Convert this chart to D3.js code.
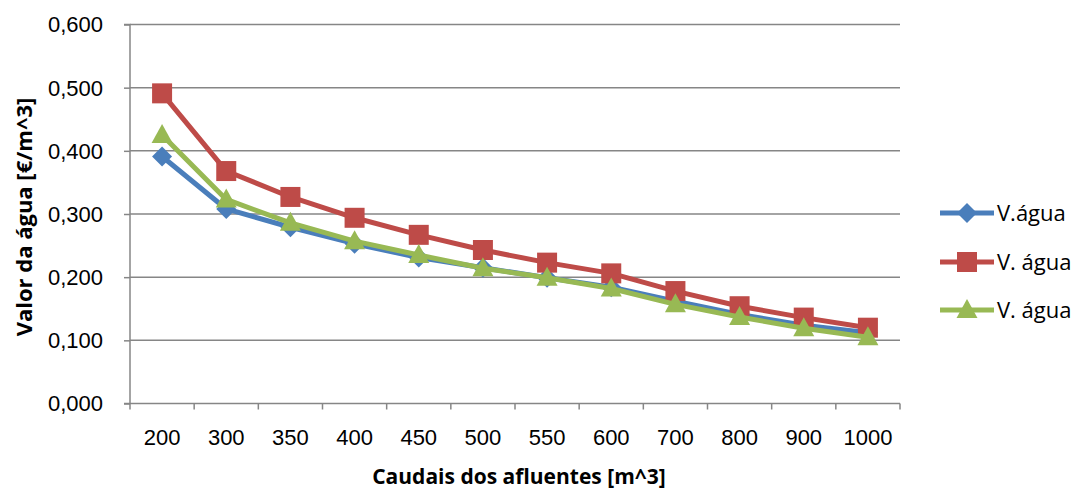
<!DOCTYPE html>
<html><head><meta charset="utf-8">
<script src="https://cdn.jsdelivr.net/npm/d3@7"></script>
<style>body{margin:0;background:#fff;}svg{display:block;font-family:"Open Sans",sans-serif;}</style>
</head><body><svg id="c" width="1080" height="490"></svg>
<script>
const categories = ["200","300","350","400","450","500","550","600","700","800","900","1000"];
const serieBlue  = [0.391,0.308,0.279,0.253,0.231,0.215,0.199,0.184,0.162,0.141,0.124,0.112];
const serieRed   = [0.491,0.368,0.327,0.294,0.267,0.243,0.223,0.206,0.178,0.154,0.136,0.120];
const serieGreen = [0.425,0.323,0.286,0.257,0.235,0.214,0.199,0.182,0.157,0.137,0.119,0.105];
const seriesNames = ["V.água","V. água","V. água"];
const yTicks = [0,0.1,0.2,0.3,0.4,0.5,0.6];
const yTitle = "Valor da água [€/m^3]";
const xTitle = "Caudais dos afluentes [m^3]";

const svg = d3.select("#c");
const L = 130, R = 900, T = 24.5, B = 403.5;
const x = d3.scaleBand().domain(categories).range([L, R]);
const y = d3.scaleLinear().domain([0, 0.6]).range([B, T]);
const fmt = v => d3.format(".3f")(v).replace(".", ",");
const grey = "#868686";

// gridlines
svg.append("g").selectAll("line").data(yTicks.filter(d => d > 0)).join("line")
  .attr("x1", L).attr("x2", R).attr("y1", d => y(d)).attr("y2", d => y(d))
  .attr("stroke", grey).attr("stroke-width", 1.5);

// y axis
const ya = svg.append("g").attr("transform", `translate(${L},0)`)
  .call(d3.axisLeft(y).tickValues(yTicks).tickFormat(fmt).tickSize(6).tickPadding(21));
ya.select(".domain").attr("stroke", grey).attr("stroke-width", 1.5).attr("d", `M-6,${T}H0V${B}`);
ya.selectAll(".tick line").attr("stroke", grey).attr("stroke-width", 1.5);
ya.selectAll("text").attr("font-size", 22).attr("fill", "#000").attr("dy", "0.34em");

// x axis
const xa = svg.append("g").attr("transform", `translate(0,${B})`)
  .call(d3.axisBottom(x).tickSize(0).tickPadding(26));
xa.select(".domain").attr("stroke", grey).attr("stroke-width", 1.5).attr("d", `M${L-6},0H${R}`);
xa.selectAll("text").attr("font-size", 22).attr("fill", "#000");
const edges = categories.map(c => x(c)).concat([R]);
xa.append("g").selectAll("line").data(edges).join("line")
  .attr("x1", d => d).attr("x2", d => d).attr("y1", 0).attr("y2", 6)
  .attr("stroke", grey).attr("stroke-width", 1.5);

// titles
svg.append("text").attr("x", 519).attr("y", 484).attr("text-anchor", "middle")
  .attr("font-size", 21).attr("font-weight", "bold").text(xTitle);
svg.append("text").attr("transform", `translate(32,${(T + B) / 2 + 3}) rotate(-90)`)
  .attr("text-anchor", "middle").attr("font-size", 22).attr("font-weight", "bold").text(yTitle);

const cx = c => x(c) + x.bandwidth() / 2;
const series = [
  {vals: serieBlue, color: "#4a7ebb", marker: "diamond"},
  {vals: serieRed, color: "#be4b48", marker: "square"},
  {vals: serieGreen, color: "#98b954", marker: "triangle"}
];
function drawMarker(g, m, color, px, py) {
  if (m === "diamond") {
    g.append("path").attr("d", `M${px},${py-10}L${px+10},${py}L${px},${py+10}L${px-10},${py}Z`).attr("fill", color);
  } else if (m === "square") {
    g.append("rect").attr("x", px-10).attr("y", py-10).attr("width", 20).attr("height", 20).attr("fill", color);
  } else {
    g.append("path").attr("d", `M${px},${py-11}L${px+10.5},${py+8}L${px-10.5},${py+8}Z`).attr("fill", color);
  }
}
const line = d3.line().x((d, i) => cx(categories[i])).y(d => y(d));
series.forEach(s => {
  const g = svg.append("g");
  g.append("path").datum(s.vals).attr("d", line).attr("fill", "none")
    .attr("stroke", s.color).attr("stroke-width", 5).attr("stroke-linejoin", "round");
  s.vals.forEach((v, i) => drawMarker(g, s.marker, s.color, cx(categories[i]), y(v)));
});

// legend
const legY = [213, 262, 310];
series.forEach((s, i) => {
  const g = svg.append("g");
  g.append("line").attr("x1", 940).attr("x2", 994).attr("y1", legY[i]).attr("y2", legY[i])
    .attr("stroke", s.color).attr("stroke-width", 5);
  drawMarker(g, s.marker, s.color, 967, legY[i]);
  g.append("text").attr("x", 997).attr("y", legY[i]).attr("dy", "0.35em")
    .attr("font-size", 22).text(seriesNames[i]);
});
</script></body></html>
